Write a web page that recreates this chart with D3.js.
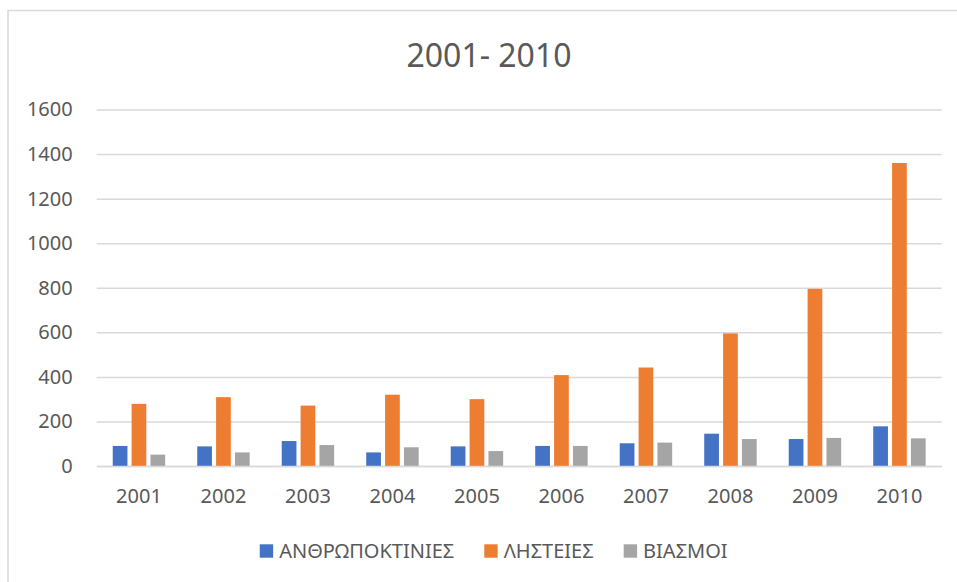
<!DOCTYPE html>
<html>
<head>
<meta charset="utf-8">
<script src="https://cdn.jsdelivr.net/npm/d3@7"></script>
<style>
  html, body { margin: 0; padding: 0; background: #fff; }
  svg { display: block; font-family: "Noto Sans", "Open Sans", sans-serif; }
</style>
</head>
<body>
<div id="chart"></div>
<script>
const years = ["2001", "2002", "2003", "2004", "2005", "2006", "2007", "2008", "2009", "2010"];
const seriesNames = ["ΑΝΘΡΩΠΟΚΤΙΝΙΕΣ", "ΛΗΣΤΕΙΕΣ", "ΒΙΑΣΜΟΙ"];
const homicides = [90, 88, 112, 61, 88, 90, 102, 145, 121, 178];
const robberies = [279, 309, 271, 320, 300, 408, 442, 595, 795, 1360];
const rapes     = [51, 61, 94, 84, 67, 90, 105, 121, 126, 124];
const yTicks = [0, 200, 400, 600, 800, 1000, 1200, 1400, 1600];

const W = 957, H = 582;
const COLORS = ["#4472c4", "#ed7d31", "#a5a5a5"];
const TEXT = "#595959";
const GRID = "#d9d9d9";

const margin = { top: 109.5, right: 15.3, bottom: 116, left: 96.7 };
const width = W - margin.left - margin.right;
const height = H - margin.top - margin.bottom;

const values = [homicides, robberies, rapes];
const rows = years.map((yr, i) => ({ year: yr, vals: values.map(v => v[i]) }));

const svg = d3.select("#chart").append("svg")
  .attr("width", W).attr("height", H);

// outer chart border
svg.append("rect")
  .attr("x", 8).attr("y", 10.5)
  .attr("width", W + 20).attr("height", H + 20)
  .attr("fill", "none").attr("stroke", "#d9d9d9").attr("stroke-width", 1.5);

// title
svg.append("text")
  .attr("x", 489).attr("y", 66.5)
  .attr("text-anchor", "middle")
  .attr("font-size", "32px").attr("fill", TEXT)
  .text("2001- 2010");

const g = svg.append("g").attr("transform", `translate(${margin.left},${margin.top})`);

const x = d3.scaleBand().domain(years).range([0, width]).padding(0);
const xs = d3.scaleBand().domain(d3.range(3)).range([0, x.bandwidth()])
  .paddingInner(0.22).paddingOuter(0.85);
const y = d3.scaleLinear().domain([0, 1600]).range([height, 0]);

// gridlines + y labels
const yAxis = d3.axisLeft(y).tickValues(yTicks).tickFormat(d3.format("d"))
  .tickSize(-width).tickPadding(24);
const ya = g.append("g").call(yAxis);
ya.select(".domain").remove();
ya.selectAll(".tick line").attr("stroke", GRID).attr("stroke-width", 1.5);
ya.selectAll(".tick text").attr("font-size", "20px").attr("fill", TEXT)
  .attr("font-family", "Noto Sans, Open Sans, sans-serif");

// bars
const groups = g.selectAll(".yr").data(rows).join("g")
  .attr("transform", d => `translate(${x(d.year)},0)`);
groups.selectAll("rect").data(d => d.vals).join("rect")
  .attr("x", (d, i) => xs(i))
  .attr("width", xs.bandwidth())
  .attr("y", d => y(d))
  .attr("height", d => y(0) - y(d))
  .attr("fill", (d, i) => COLORS[i]);

// x axis
const xAxis = d3.axisBottom(x).tickSize(0).tickPadding(23);
const xa = g.append("g").attr("transform", `translate(0,${height})`).call(xAxis);
xa.select(".domain").attr("stroke", GRID).attr("stroke-width", 1.5);
xa.selectAll(".tick text").attr("font-size", "20px").attr("fill", TEXT)
  .attr("font-family", "Noto Sans, Open Sans, sans-serif");

// legend
const legend = svg.append("g");
const SQ = 13.4, GAP = 6, ITEM_GAP = 30;
let cx = 0;
seriesNames.forEach((name, i) => {
  const it = legend.append("g").attr("transform", `translate(${cx},0)`);
  it.append("rect").attr("x", 0).attr("y", -SQ / 2).attr("width", SQ).attr("height", SQ)
    .attr("fill", COLORS[i]);
  const t = it.append("text").attr("x", SQ + GAP).attr("y", 7)
    .attr("font-size", "20px").attr("fill", TEXT).text(name);
  cx += SQ + GAP + t.node().getComputedTextLength() + ITEM_GAP;
});
const legW = cx - ITEM_GAP;
legend.attr("transform", `translate(${493.7 - legW / 2},551)`);
</script>
</body>
</html>
